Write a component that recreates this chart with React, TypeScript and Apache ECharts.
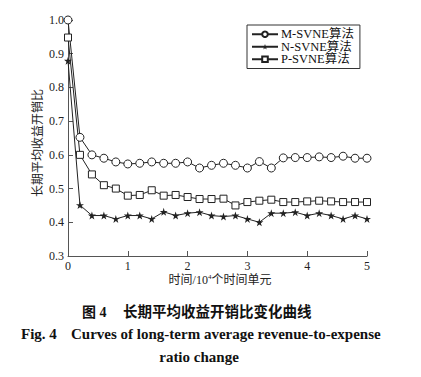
import React, { useEffect, useRef } from "react";
import * as echarts from "echarts";

const xValues = [0, 0.2, 0.4, 0.6, 0.8, 1.0, 1.2, 1.4, 1.6, 1.8, 2.0, 2.2, 2.4, 2.6, 2.8, 3.0, 3.2, 3.4, 3.6, 3.8, 4.0, 4.2, 4.4, 4.6, 4.8, 5.0];
const mSvne = [1.0, 0.652, 0.6, 0.59, 0.579, 0.573, 0.575, 0.579, 0.575, 0.575, 0.579, 0.561, 0.569, 0.575, 0.569, 0.561, 0.58, 0.561, 0.591, 0.592, 0.592, 0.594, 0.592, 0.596, 0.59, 0.59];
const nSvne = [0.879, 0.451, 0.42, 0.42, 0.41, 0.42, 0.42, 0.41, 0.431, 0.42, 0.427, 0.43, 0.42, 0.417, 0.42, 0.41, 0.4, 0.427, 0.427, 0.43, 0.42, 0.427, 0.42, 0.41, 0.42, 0.41];
const pSvne = [0.948, 0.6, 0.542, 0.51, 0.5, 0.479, 0.481, 0.495, 0.479, 0.481, 0.475, 0.469, 0.469, 0.47, 0.45, 0.46, 0.464, 0.467, 0.46, 0.46, 0.462, 0.464, 0.462, 0.46, 0.46, 0.46];
const seriesNames = ["M-SVNE算法", "N-SVNE算法", "P-SVNE算法"];
const yAxisTitle = "长期平均收益开销比";
const captionCn = ["图 4", "长期平均收益开销比变化曲线"];
const captionEn = ["Fig. 4", "Curves of long-term average revenue-to-expense", "ratio change"];

const SERIF = "'Liberation Serif', 'Times New Roman', 'Noto Sans CJK SC', serif";
const STAR = "path://M50,0 L61.8,36.2 L100,36.2 L69.1,58.8 L80.9,95.1 L50,72.4 L19.1,95.1 L30.9,58.8 L0,36.2 L38.2,36.2 Z";

function pairs(ys: number[]) {
  return xValues.map((x, i) => [x, ys[i]]);
}

export default function App() {
  const ref = useRef<HTMLDivElement>(null);
  useEffect(() => {
    if (!ref.current) return;
    const chart = echarts.init(ref.current, undefined, { renderer: "svg" });
    const baseSeries = {
      type: "line" as const,
      clip: false,
      lineStyle: { color: "#222", width: 1 },
      emphasis: { disabled: true },
    };
    chart.setOption({
      animation: false,
      backgroundColor: "#fff",
      grid: { left: 68, right: 54, top: 20, bottom: 121, containLabel: false },
      legend: {
        orient: "vertical",
        left: 247,
        top: 25,
        padding: [3, 6, 3, 4],
        itemWidth: 26,
        itemHeight: 7,
        itemGap: 0,
        borderColor: "#333",
        borderWidth: 1,
        textStyle: { fontSize: 12.5, fontFamily: SERIF, color: "#111", lineHeight: 12, padding: [0, 0, 0, -2] },
        data: seriesNames,
      },
      xAxis: {
        type: "value",
        min: 0,
        max: 5,
        interval: 1,
        axisLine: { lineStyle: { color: "#555", width: 1 } },
        axisTick: { inside: true, length: 5, lineStyle: { color: "#555" } },
        axisLabel: { fontSize: 12, fontFamily: SERIF, color: "#222", margin: 4 },
        splitLine: { show: false },
      },
      yAxis: {
        type: "value",
        min: 0.3,
        max: 1.0,
        interval: 0.1,
        axisLine: { show: true, lineStyle: { color: "#555", width: 1 } },
        axisTick: { show: true, inside: true, length: 5, lineStyle: { color: "#555" } },
        axisLabel: {
          fontSize: 12,
          fontFamily: SERIF,
          color: "#222",
          margin: 4,
          formatter: (v: number) => v.toFixed(1),
        },
        splitLine: { show: false },
      },
      series: [
        {
          ...baseSeries,
          name: seriesNames[0],
          data: pairs(mSvne),
          symbol: "circle",
          symbolSize: 8,
          itemStyle: { color: "#fff", borderColor: "#222", borderWidth: 1 },
        },
        {
          ...baseSeries,
          name: seriesNames[1],
          data: pairs(nSvne),
          symbol: STAR,
          symbolSize: 8,
          itemStyle: { color: "#222" },
        },
        {
          ...baseSeries,
          name: seriesNames[2],
          data: pairs(pSvne),
          symbol: "rect",
          symbolSize: 7,
          itemStyle: { color: "#fff", borderColor: "#222", borderWidth: 1 },
        },
      ],
      graphic: [
        {
          type: "text",
          x: 38,
          y: 143,
          rotation: Math.PI / 2,
          style: {
            text: yAxisTitle,
            fontSize: 12,
            fontFamily: SERIF,
            fill: "#222",
            align: "center",
            verticalAlign: "middle",
          },
        },
        {
          type: "text",
          x: 220,
          y: 280,
          style: {
            text: "时间/10{sup|4}个时间单元",
            fontSize: 12,
            fontFamily: SERIF,
            fill: "#222",
            align: "center",
            verticalAlign: "middle",
            rich: {
              sup: { fontSize: 7, fontFamily: SERIF, fill: "#222", padding: [0, 0, 6, 0] },
            },
          },
        },
        {
          type: "text",
          x: 82,
          y: 312,
          style: { text: captionCn[0], fontSize: 14, fontWeight: "bold", fontFamily: SERIF, fill: "#111", align: "left", verticalAlign: "middle" },
        },
        {
          type: "text",
          x: 123,
          y: 312,
          style: { text: captionCn[1], fontSize: 14.5, fontWeight: "bold", fontFamily: SERIF, fill: "#111", align: "left", verticalAlign: "middle" },
        },
        {
          type: "text",
          x: 21,
          y: 334,
          style: { text: captionEn[0], fontSize: 15, fontWeight: "bold", fontFamily: SERIF, fill: "#111", align: "left", verticalAlign: "middle" },
        },
        {
          type: "text",
          x: 71,
          y: 334,
          style: { text: captionEn[1], fontSize: 15, fontWeight: "bold", fontFamily: SERIF, fill: "#111", align: "left", verticalAlign: "middle" },
        },
        {
          type: "text",
          x: 199,
          y: 357,
          style: { text: captionEn[2], fontSize: 15, fontWeight: "bold", fontFamily: SERIF, fill: "#111", align: "center", verticalAlign: "middle" },
        },
      ],
    });
    return () => chart.dispose();
  }, []);
  return <div ref={ref} style={{ width: 421, height: 377, position: "absolute", left: 0, top: 0 }} />;
}
